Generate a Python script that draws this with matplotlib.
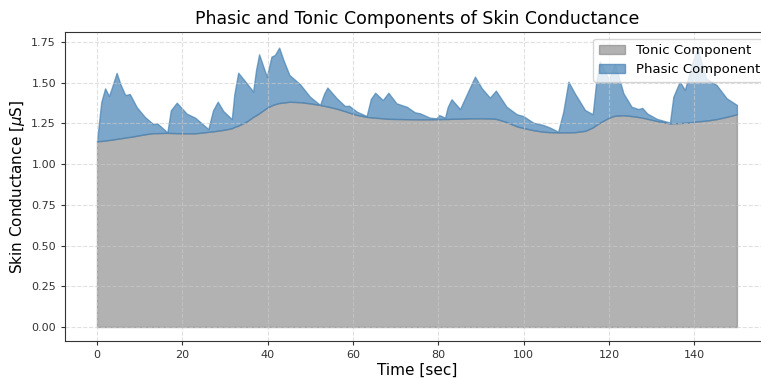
import numpy as np
import matplotlib
matplotlib.use("Agg")
import matplotlib.pyplot as plt

# ------------------------------------------------------------------------------
# DATA
# ------------------------------------------------------------------------------
time_sec = [0, 1, 1.9, 2.8, 3.5, 4.6, 5.5, 6.6, 7.7, 8.5, 9.3, 11.2, 13.2, 14.1,
            15.2, 16.5, 17.3, 18.7, 21.0, 23.0, 26.1, 27.2, 28.3, 29.6, 31.6,
            32.2, 33.1, 35.1, 36.6, 37.3, 38.0, 39.8, 40.9, 41.7, 42.7, 43.7,
            45.1, 47.6, 49.9, 52.3, 53.2, 54.0, 56.2, 58.1, 59.1, 60.9, 63.2,
            64.2, 65.2, 67.0, 68.3, 70.2, 72.6, 74.5, 75.7, 78.0, 79.6, 80.2,
            81.6, 82.2, 83.1, 85.1, 86.6, 88.6, 90.2, 92.1, 93.5, 96.0, 98.4,
            99.9, 102.3, 104.6, 106.2, 108.1, 109.3, 110.5, 112.0, 114.4,
            116.2, 117.0, 117.9, 120.0, 121.4, 123.4, 125.3, 126.9, 127.8,
            129.0, 131.2, 134.3, 135.1, 136.6, 137.8, 139.4, 140.7, 142.8,
            145.2, 147.6, 150.0]

# total skin conductance (tonic + phasic)
total_sc = [1.14, 1.38, 1.465, 1.418, 1.47, 1.56, 1.49, 1.424, 1.43, 1.39, 1.35,
            1.29, 1.245, 1.25, 1.225, 1.195, 1.33, 1.377, 1.31, 1.285, 1.215,
            1.33, 1.383, 1.326, 1.276, 1.43, 1.561, 1.496, 1.445, 1.58, 1.674,
            1.537, 1.66, 1.67, 1.715, 1.639, 1.547, 1.49, 1.414, 1.363, 1.43,
            1.47, 1.404, 1.357, 1.358, 1.322, 1.295, 1.40, 1.438, 1.393, 1.438,
            1.373, 1.352, 1.318, 1.312, 1.285, 1.281, 1.301, 1.285, 1.35, 1.398,
            1.338, 1.424, 1.537, 1.465, 1.408, 1.451, 1.352, 1.306, 1.295,
            1.254, 1.24, 1.224, 1.199, 1.322, 1.506, 1.434, 1.332, 1.306, 1.50,
            1.63, 1.52, 1.615, 1.434, 1.352, 1.338, 1.345, 1.31, 1.278, 1.255,
            1.414, 1.506, 1.455, 1.608, 1.71, 1.526, 1.486, 1.404, 1.363]

tonic_sc = [1.14, 1.142, 1.145, 1.148, 1.15, 1.155, 1.158, 1.163, 1.167, 1.17,
            1.174, 1.183, 1.19, 1.19, 1.191, 1.192, 1.191, 1.19, 1.189, 1.189,
            1.198, 1.201, 1.205, 1.21, 1.22, 1.228, 1.236, 1.262, 1.29, 1.30,
            1.312, 1.345, 1.36, 1.368, 1.375, 1.378, 1.383, 1.38, 1.373, 1.363,
            1.358, 1.354, 1.34, 1.325, 1.316, 1.302, 1.29, 1.287, 1.285, 1.281,
            1.278, 1.277, 1.276, 1.275, 1.275, 1.275, 1.276, 1.276, 1.277,
            1.277, 1.278, 1.279, 1.28, 1.281, 1.281, 1.28, 1.278, 1.258, 1.232,
            1.222, 1.208, 1.199, 1.196, 1.195, 1.195, 1.195, 1.196, 1.204,
            1.225, 1.24, 1.255, 1.285, 1.297, 1.30, 1.295, 1.289, 1.285, 1.278,
            1.265, 1.25, 1.251, 1.252, 1.254, 1.258, 1.262, 1.267, 1.276, 1.29,
            1.306]

t = np.array(time_sec)
tonic = np.array(tonic_sc)
total = np.array(total_sc)

# ------------------------------------------------------------------------------
# PLOT
# ------------------------------------------------------------------------------
fig = plt.figure(figsize=(7.61, 3.78), dpi=100)
ax = fig.add_axes([0.0854, 0.0979, 0.925, 0.8174])

ax.fill_between(t, 0, tonic, color='gray', alpha=0.6, label='Tonic Component')
ax.fill_between(t, tonic, total, color='steelblue', alpha=0.7,
                label='Phasic Component')

ax.set_xlim(-7.5, 157.5)
ax.set_ylim(-0.086, 1.811)
ax.set_xticks(np.arange(0, 141, 20))
ax.set_yticks(np.arange(0, 1.76, 0.25))
ax.yaxis.set_major_formatter(matplotlib.ticker.FormatStrFormatter('%.2f'))
ax.tick_params(labelsize=8, colors='#333333', length=3)
ax.grid(True, linestyle='--', color='#cccccc', alpha=0.6, linewidth=0.8)
for s in ax.spines.values():
    s.set_color('#333333')
ax.spines['right'].set_visible(False)

ax.set_title('Phasic and Tonic Components of Skin Conductance', fontsize=12.5)
ax.set_xlabel('Time [sec]', fontsize=11, labelpad=2)
ax.set_ylabel(r'Skin Conductance [$\mu$S]', fontsize=11, labelpad=3)
ax.legend(loc='upper right', fontsize=9.5, bbox_to_anchor=(1.004, 1.0))

fig.savefig('out.png', dpi=100)
